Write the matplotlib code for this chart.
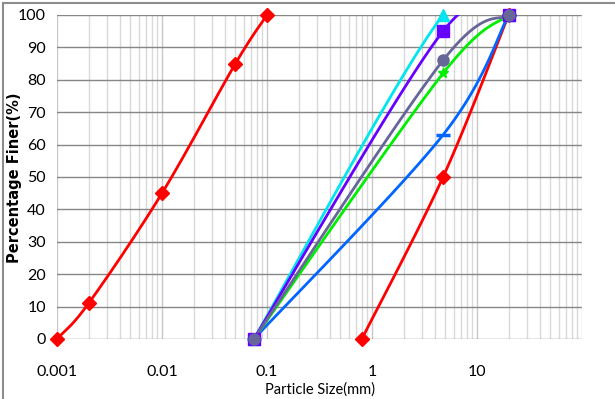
import matplotlib
matplotlib.use("Agg")
import matplotlib.pyplot as plt
import numpy as np

# grain size data (mm, % finer)
clay_size = [0.001, 0.002, 0.01, 0.05, 0.1]
clay_pct = [0, 11, 45, 85, 100]

coarse_size = [0.8, 4.75, 20]
coarse_pct = [0, 50, 100]

mix_size = [0.075, 4.75, 20]
cyan_pct = [0, 100, 100]
purple_pct = [0, 95, 100]
gray_pct = [0, 86, 100]
green_pct = [0, 82, 100]
blue_pct = [0, 63, 100]

xtick_vals = [0.001, 0.01, 0.1, 1, 10]
xtick_labels = ['0.001', '0.01', '0.1', '1', '10']
ytick_vals = list(range(0, 101, 10))


def smooth(xs, ys, n=40):
    # excel style smoothed line (catmull-rom bezier) in log-x space
    lx = np.log10(np.array(xs, dtype=float))
    y = np.array(ys, dtype=float)
    px = np.concatenate([[lx[0]], lx, [lx[-1]]])
    py = np.concatenate([[y[0]], y, [y[-1]]])
    outx, outy = [], []
    t = np.linspace(0, 1, n)
    for i in range(1, len(px) - 2):
        p0 = np.array([px[i - 1], py[i - 1]])
        p1 = np.array([px[i], py[i]])
        p2 = np.array([px[i + 1], py[i + 1]])
        p3 = np.array([px[i + 2], py[i + 2]])
        c1 = p1 + (p2 - p0) / 6
        c2 = p2 - (p3 - p1) / 6
        pts = ((1 - t) ** 3)[:, None] * p1 + (3 * (1 - t) ** 2 * t)[:, None] * c1 \
            + (3 * (1 - t) * t ** 2)[:, None] * c2 + (t ** 3)[:, None] * p2
        outx.extend(pts[:, 0])
        outy.extend(pts[:, 1])
    return 10 ** np.array(outx), np.array(outy)


fig = plt.figure(figsize=(6.15, 3.99), dpi=100)
ax = fig.add_axes([57 / 615, 1 - 339 / 399, 525 / 615, 324 / 399])

series = [
    (coarse_size, coarse_pct, '#ff0000', 'D', 7.5),
    (mix_size, blue_pct, '#0066ff', '_', 10),
    (mix_size, green_pct, '#00ee00', '*', 8),
    (mix_size, cyan_pct, '#00e5ee', '^', 8),
    (mix_size, purple_pct, '#6600ff', 's', 8),
    (mix_size, gray_pct, '#666699', 'o', 8),
    (clay_size, clay_pct, '#ff0000', 'D', 7.5),
]
for xs, ys, col, mk, ms in series:
    sx, sy = smooth(xs, ys)
    ax.plot(sx, sy, color=col, lw=2, zorder=3)
    ax.plot(xs, ys, ls='none', marker=mk, color=col, ms=ms, mew=2.5 if mk == '_' else 1,
            zorder=4, clip_on=False)

ax.set_xscale('log')
ax.set_xlim(0.001, 100)
ax.set_ylim(0, 100)
ax.set_xticks(xtick_vals)
ax.set_xticklabels(xtick_labels)
ax.set_yticks(ytick_vals)
ax.xaxis.set_minor_locator(matplotlib.ticker.LogLocator(base=10, subs=np.arange(2, 10)))
ax.xaxis.set_minor_formatter(matplotlib.ticker.NullFormatter())
ax.grid(True, which='major', axis='y', color='#868686', lw=1)
ax.grid(True, which='major', axis='x', color='#c8c8c8', lw=1)
ax.grid(True, which='minor', axis='x', color='#d9d9d9', lw=1)
ax.axvline(100, color='#d9d9d9', lw=1, zorder=1)
ax.set_axisbelow(True)
for s in ax.spines.values():
    s.set_visible(False)
ax.tick_params(which='both', length=0)
ax.tick_params(axis='x', pad=19)
ax.tick_params(axis='y', pad=8)
tick_font = ['Lato', 'DejaVu Sans']
for lab in ax.get_xticklabels() + ax.get_yticklabels():
    lab.set_family(tick_font)
    lab.set_fontsize(11.5)

fig.text(320 / 615, 1 - 390 / 399, 'Particle Size(mm)', ha='center', va='center',
         family=tick_font, fontsize=10.5)
fig.text(15 / 615, 1 - 178 / 399, 'Percentage Finer(%)', ha='center', va='center',
         rotation=90, fontweight='bold', fontsize=10.5)

# chart frame (top and left edges visible in the original)
fig.add_artist(plt.Line2D([3 / 615, 1], [1 - 3 / 399, 1 - 3 / 399], color='#8c8c8c', lw=1.5))
fig.add_artist(plt.Line2D([3 / 615, 3 / 615], [0, 1 - 3 / 399], color='#8c8c8c', lw=1.5))

fig.savefig('out.png', dpi=100)
